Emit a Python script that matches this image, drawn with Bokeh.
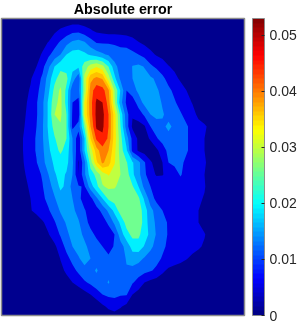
from bokeh.plotting import figure
from bokeh.models import ColorBar, LinearColorMapper, FixedTicker, Range1d, Title
from bokeh.embed import file_html
from bokeh.resources import INLINE
import numpy as np

title_text = "Absolute error"
tick_values = [0, 0.01, 0.02, 0.03, 0.04, 0.05]
color_max = 0.053
level_step = 0.0044
band_colors = ["#00008f", "#0000e8", "#0060ff", "#00a0ff", "#00f0ff", "#70ff90",
               "#c0ff40", "#ffe800", "#ffc000", "#ff8000", "#ff2000", "#900000"]

grid_x = [0,12,24,30,36,42,48,54,60,66,72,78,84,90,96,102,108,114,120,126,132,138,144,150,156,162,168,174,180,186,192,198,204,216,252]
grid_y = [18,30,42,54,66,78,90,102,114,126,138,150,162,174,186,198,210,222,234,246,258,270,282,294,306,318]

# error per grid row, in units of level_step; the rest of each row is background
r018 = []
r030 = [.3,.3,.3,.3,.3,.3,.3,.8,1.15,1.4,1.7,1.7,1.4,1.1,.8,.7,.6,.6,.5,.4]
r042 = [.3,.3,.3,.4,.5,.7,1.05,1.6,2.15,2.7,3.2,3.4,3.1,2.45,1.95,1.9,1.9,1.9,1.9,1.85,1.5,1.05,.8,.6,.4]
r054 = [.3,.3,.3,.5,.7,1.1,1.8,2.4,3,4,4.4,4.4,4.2,3.85,3.5,3.15,2.85,2.4,2.15,2.2,2.2,2.0,1.65,1.25,.9,.7,.5,.4]
r066 = [.3,.3,.4,.7,1,1.7,2.8,4,4.7,4.6,4.3,4.2,5.5,6.4,6.9,6.3,5,3.4,2.5,2.3,3.05,3.2,2.95,2.2,1.8,1.5,1.05,.8,.5,.4]
r078 = [.3,.3,.6,.9,1.5,2.2,3.5,4.7,5.5,5.3,3.6,2.2,6.3,8.7,9.3,8.9,6.5,4.3,2.8,2.4,3,3.3,3.3,3.15,2.85,2.2,1.7,1.25,.85,.6,.4]
r090 = [.3,.3,.7,1.1,1.7,2.5,3.8,5.3,6.2,4.7,2.2,2.6,6,9.5,10.6,10.4,9.2,6,3.9,2,2.6,3.2,3.4,3.4,3.1,2.8,2.2,1.8,1.4,1,.7,.5,.4]
r102 = [.3,.3,.8,1.3,1.9,2.8,4.2,5.7,6.3,4.6,2,1.6,7,9.6,11.2,11,9.6,6.2,3.4,1.8,1.4,2.5,3.3,3.5,3.4,2.9,2.4,2.1,1.7,1.3,.95,.6,.4]
r114 = [.3,.3,.9,1.4,1.9,2.8,4.2,6,6.2,5,1.8,1.3,7,9.5,11.3,11.3,10,7.5,4.7,2.4,1.1,1.4,2.2,3,3.3,3.1,2.7,2.4,2.1,1.7,1.3,.8,.4]
r126 = [.3,.3,1,1.5,2,2.9,4.2,5.4,5.9,5,1.7,2.5,5.3,9,11.2,11.2,10,7.5,5,2.5,.8,.7,.9,2,2.5,2.8,3.2,2.8,2.4,2.1,1.7,1.3,1.15]
r138 = [.3,.3,1.1,1.6,2.1,2.9,4,4.9,5.6,5,3,1.3,4,8,10.2,10.8,9.8,7.5,5.4,3.5,1.7,.8,.7,1.1,1.9,2.4,2.7,2.6,2.4,2.1,1.7,1.3,1]
r150 = [.3,.3,1.1,1.6,2.1,2.8,3.8,4.6,5.2,4.6,3,1.3,4,6.4,8.6,9.6,9,7.3,5.5,4.2,1.7,.85,.55,.5,.8,1.5,2.3,2.5,2.4,2.1,1.7,1.3,1]
r162 = [.3,.3,1.05,1.5,1.95,2.7,3.5,4.2,4.5,4.3,3.2,.9,2.7,5.5,7.8,9.2,8.4,7.1,5.8,5.1,4.1,3.3,2.1,1.1,.7,1,2,2.2,2.2,1.8,1.5,1.3,1.1]
r174 = [.3,.3,.95,1.25,1.7,2.1,3,3.9,4.3,3.9,3,1,2.8,4.5,5.3,6.5,7.1,6.5,6,5.5,4.2,3.3,2.2,1.4,.9,.95,1.3,1.6,2.1,1.6,1.5,1.3,1]
r186 = [.3,.3,.85,1.1,1.6,1.95,2.6,3.4,4.2,3.8,2.6,2.1,1.9,3.5,4.7,5.9,6.2,6.1,5.7,5.4,5.1,4,2.7,2,1.7,1.5,1.5,1.5,1.5,1.4,1.3,1.1,1.05]
r198 = [.3,.3,.8,1,1.4,1.8,2.3,2.9,3.6,3.7,3,2.3,1.5,1.7,2.8,4,5.2,5.5,5.6,5.6,5.6,5.2,3.8,2.5,1.7,1.5,1.5,1.5,1.5,1.4,1.3,1.1,.95]
r210 = [.3,.3,.7,.95,1.2,1.5,1.9,2.5,3.1,3.3,3.2,2.7,2.1,1.5,1.6,2.3,3.2,4.3,5.5,6,5.9,5.6,4.5,3.3,2.6,2,1.6,1.5,1.4,1.3,1.2,1,.7]
r222 = [.3,.3,.3,.4,.6,.9,1.3,1.9,2.6,3.1,3.3,3.1,2.4,1.7,1.3,1.5,2.2,3.2,4.2,5.4,6,5.8,4.5,3.5,2.8,2.3,1.9,1.6,1.4,1.3,1.2,1,.7]
r234 = [.3,.3,.3,.3,.3,.5,.95,1.5,2.1,2.8,3.3,3.3,2.8,2.3,1.8,1.5,1.4,2,3.5,4.6,5.3,5.2,4.5,3.7,2.9,2.4,1.9,1.6,1.4,1.3,1.2,1.1,1.05]
r246 = [.3,.3,.3,.3,.3,.3,.3,.8,1.5,2.3,3,3.4,3.2,2.7,2.4,2,1.6,2.1,2.6,3.4,4.4,4.6,3.9,3.2,2.7,2.2,1.8,1.6,1.5,1.4,1.3,1.1,.9]
r258 = [.3,.3,.3,.3,.3,.3,.3,.3,1.05,1.7,2.3,2.9,3.4,3,2.6,2.4,2.2,2.2,2.4,3.1,3.5,3.3,2.9,2.6,2.3,1.9,1.7,1.5,1.3,1.05,.8,.7,.5]
r270 = [.3,.3,.3,.3,.3,.3,.3,.3,.7,1.2,1.7,2.2,2.7,2.7,3.1,2.6,2.6,2.6,2.7,2.9,2.7,2.5,2.3,2.1,1.8,1.2,.8,.6,.5,.5,.4]
r282 = [.3,.3,.3,.3,.3,.3,.3,.3,.3,.6,1,1.4,1.85,2.2,2.6,2.5,3.1,2.4,2.3,2.2,2.1,1.6,1,.7,.5,.4]
r294 = [.3,.3,.3,.3,.3,.3,.3,.3,.3,.3,.3,.3,.6,1,1.5,2,2.2,2.2,2.1,2.1,1,.6,.4]
r306 = [.3,.3,.3,.3,.3,.3,.3,.3,.3,.3,.3,.3,.3,.3,.3,.8,1.2,1.5,1.1,.7,.4]
r318 = []
rows = [r018,r030,r042,r054,r066,r078,r090,r102,r114,r126,r138,r150,r162,r174,r186,r198,r210,r222,r234,r246,r258,r270,r282,r294,r306,r318]

z = np.array([r + [.3] * (len(grid_x) - len(r)) for r in rows]) * level_step


def jet(t):
    c = lambda v: int(255 * max(0, min(1, v)))
    return "#%02x%02x%02x" % (c(1.5 - abs(4 * t - 3)), c(1.5 - abs(4 * t - 2)), c(1.5 - abs(4 * t - 1)))


jet64 = [jet((i + .5) / 64) for i in range(64)]

p = figure(width=299, height=321, frame_width=243, frame_height=297,
           x_range=Range1d(1, 244), y_range=Range1d(315, 18),
           output_backend="svg", toolbar_location=None, title=None,
           min_border_left=1, min_border_right=0, min_border_top=18, min_border_bottom=6,
           background_fill_color="#00008f", border_fill_color="white",
           styles={"position": "fixed", "left": "0px", "top": "0px"})
t = Title(text=title_text, align="center", text_font="Liberation Sans", text_font_size="14.3px",
          text_font_style="bold", text_color="#000000", standoff=0, offset=0,
          vertical_align="top", text_line_height=0.8)
p.add_layout(t, "above")
p.xaxis.visible = False
p.yaxis.visible = False
p.grid.visible = False
p.outline_line_color = "#8c8c8c"
p.outline_line_width = 1.5

# one stacked filled contour per band, so no seams show between bands
for k, color in enumerate(band_colors):
    if k == 0:
        continue
    cr = p.contour(grid_x, grid_y, z, [k * level_step, 20 * level_step], fill_color=[color], line_color=None)
    cr.line_renderer.visible = False

mapper = LinearColorMapper(palette=jet64, low=0, high=color_max)
cb = ColorBar(color_mapper=mapper, ticker=FixedTicker(ticks=tick_values),
              width=12, height=297, margin=0, padding=0, location=(8, 0),
              major_tick_in=3, major_tick_out=0, major_tick_line_color="#262626",
              minor_tick_line_color=None,
              major_label_text_font="Liberation Sans", major_label_text_font_size="14px",
              major_label_text_color="#262626", label_standoff=5,
              bar_line_color="#8c8c8c", bar_line_width=1)
p.add_layout(cb, "right")

open("out.html", "w").write(file_html(p, INLINE))
